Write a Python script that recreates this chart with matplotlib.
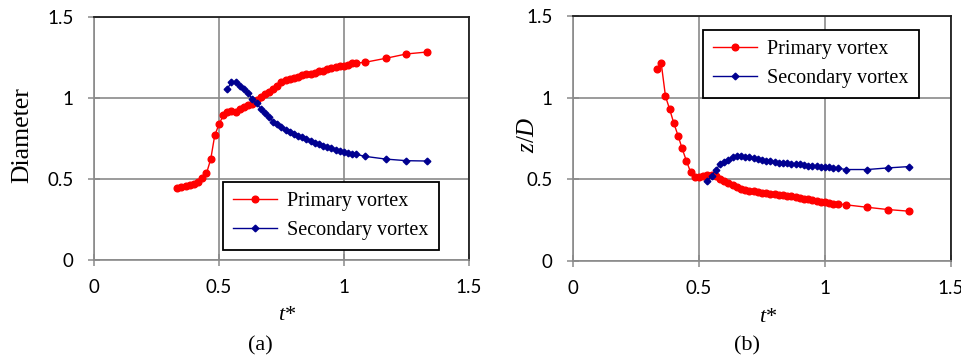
import matplotlib
matplotlib.use("Agg")
import matplotlib.pyplot as plt

plt.rcParams['mathtext.fontset'] = 'custom'
plt.rcParams['mathtext.it'] = 'Liberation Serif:italic'
plt.rcParams['mathtext.rm'] = 'Liberation Serif'

# time grid for each series
t_primary = [0.333, 0.350, 0.367, 0.383, 0.400, 0.417, 0.433, 0.450, 0.467, 0.483,
             0.500, 0.517, 0.533, 0.550, 0.567, 0.583, 0.600, 0.617, 0.633, 0.650,
             0.667, 0.683, 0.700, 0.717, 0.733, 0.750, 0.767, 0.783, 0.800, 0.817,
             0.833, 0.850, 0.867, 0.883, 0.900, 0.917, 0.933, 0.950, 0.967, 0.983,
             1.000, 1.017, 1.033, 1.050, 1.083, 1.167, 1.250, 1.333]
t_secondary = [0.533, 0.550, 0.567, 0.583, 0.600, 0.617, 0.633, 0.650, 0.667, 0.683,
               0.700, 0.717, 0.733, 0.750, 0.767, 0.783, 0.800, 0.817, 0.833, 0.850,
               0.867, 0.883, 0.900, 0.917, 0.933, 0.950, 0.967, 0.983, 1.000, 1.017,
               1.033, 1.050, 1.083, 1.167, 1.250, 1.333]

# (a) diameter
dia_primary = [0.446, 0.451, 0.459, 0.465, 0.469, 0.481, 0.504, 0.535, 0.623, 0.770,
               0.837, 0.893, 0.914, 0.920, 0.914, 0.930, 0.942, 0.957, 0.963, 0.986,
               1.008, 1.023, 1.035, 1.056, 1.074, 1.097, 1.109, 1.119, 1.126, 1.128,
               1.142, 1.148, 1.150, 1.156, 1.169, 1.169, 1.177, 1.183, 1.191, 1.195,
               1.200, 1.203, 1.216, 1.216, 1.220, 1.245, 1.272, 1.284]
dia_secondary = [1.054, 1.101, 1.101, 1.076, 1.056, 1.031, 0.992, 0.967, 0.934, 0.905,
                 0.883, 0.854, 0.840, 0.819, 0.800, 0.790, 0.780, 0.767, 0.759, 0.745,
                 0.735, 0.724, 0.714, 0.706, 0.698, 0.689, 0.679, 0.675, 0.669, 0.662,
                 0.656, 0.652, 0.640, 0.623, 0.613, 0.611]

# (b) z/D
zd_primary = [1.173, 1.212, 1.008, 0.932, 0.844, 0.767, 0.689, 0.613, 0.543, 0.514,
              0.514, 0.523, 0.527, 0.527, 0.521, 0.504, 0.490, 0.475, 0.463, 0.451,
              0.442, 0.434, 0.428, 0.426, 0.424, 0.418, 0.414, 0.413, 0.412, 0.405,
              0.403, 0.399, 0.395, 0.391, 0.385, 0.381, 0.377, 0.372, 0.368, 0.364,
              0.360, 0.356, 0.352, 0.350, 0.344, 0.329, 0.315, 0.305]
zd_secondary = [0.490, 0.521, 0.558, 0.591, 0.607, 0.621, 0.634, 0.642, 0.642, 0.638,
                0.634, 0.630, 0.626, 0.620, 0.615, 0.611, 0.607, 0.603, 0.601, 0.599,
                0.595, 0.593, 0.591, 0.589, 0.584, 0.582, 0.580, 0.578, 0.576, 0.574,
                0.570, 0.568, 0.560, 0.560, 0.570, 0.578]

ticks = [0, 0.5, 1, 1.5]
tick_labels = ['0', '0.5', '1', '1.5']

red = '#ff0000'
blue = '#000090'
grid_c = '#8a8a8a'
serif = 'Liberation Serif'

fig = plt.figure(figsize=(9.62, 3.62), dpi=100)
W, H = 962, 362


def setup(ax, ylabel, ylab_x, ylab_size):
    ax.set_xlim(0, 1.5)
    ax.set_ylim(0, 1.5)
    ax.set_xticks(ticks)
    ax.set_yticks(ticks)
    ax.set_xticklabels(tick_labels, fontfamily='Lato', fontsize=13.5)
    ax.set_yticklabels(tick_labels, fontfamily='Lato', fontsize=13.5)
    ax.grid(True, color=grid_c, linewidth=1.2)
    ax.set_axisbelow(True)
    ax.tick_params(axis='both', direction='inout', length=9, width=1.1, color=grid_c)
    ax.tick_params(axis='x', pad=9)
    ax.tick_params(axis='y', pad=10)
    for s in ['left', 'bottom']:
        ax.spines[s].set_color(grid_c)
        ax.spines[s].set_linewidth(1.2)
    for s in ['top', 'right']:
        ax.spines[s].set_color('#202020')
        ax.spines[s].set_linewidth(1.3)
    ax.set_xlabel('$t$*', fontfamily=serif, fontsize=16)
    ax.xaxis.set_label_coords(0.515, -0.19)
    ax.set_ylabel(ylabel, fontfamily=serif, fontsize=ylab_size)
    ax.yaxis.set_label_coords(ylab_x, 0.515)


def draw(ax, yp, ys, legend_xy):
    ax.plot(t_primary, yp, color=red, linewidth=1.0, marker='o', markersize=4.8,
            label='Primary vortex', clip_on=False)
    ax.plot(t_secondary, ys, color=blue, linewidth=1.0, marker='D', markersize=3.4,
            label='Secondary vortex', clip_on=False)
    leg = ax.legend(loc='upper left', bbox_to_anchor=legend_xy, frameon=True,
                    fancybox=False, edgecolor='black', framealpha=1,
                    prop={'family': serif, 'size': 14.5}, handlelength=2.2,
                    borderpad=0.5, labelspacing=0.5, handletextpad=0.5,
                    borderaxespad=0)
    leg.get_frame().set_linewidth(1.3)


ax1 = fig.add_axes([94 / W, 1 - 260 / H, 375 / W, 243 / H])
setup(ax1, 'Diameter', -0.163, 18.5)
draw(ax1, dia_primary, dia_secondary, (0.344, 0.321))

ax2 = fig.add_axes([573 / W, 1 - 261 / H, 378 / W, 245 / H])
setup(ax2, '$z/D$', -0.09, 18)
draw(ax2, zd_primary, zd_secondary, (0.344, 0.943))

fig.text(260 / W, 1 - 346 / H, '(a)', fontfamily=serif, fontsize=16, ha='center', va='center')
fig.text(747 / W, 1 - 346 / H, '(b)', fontfamily=serif, fontsize=16, ha='center', va='center')

fig.savefig('out.png', dpi=100)
